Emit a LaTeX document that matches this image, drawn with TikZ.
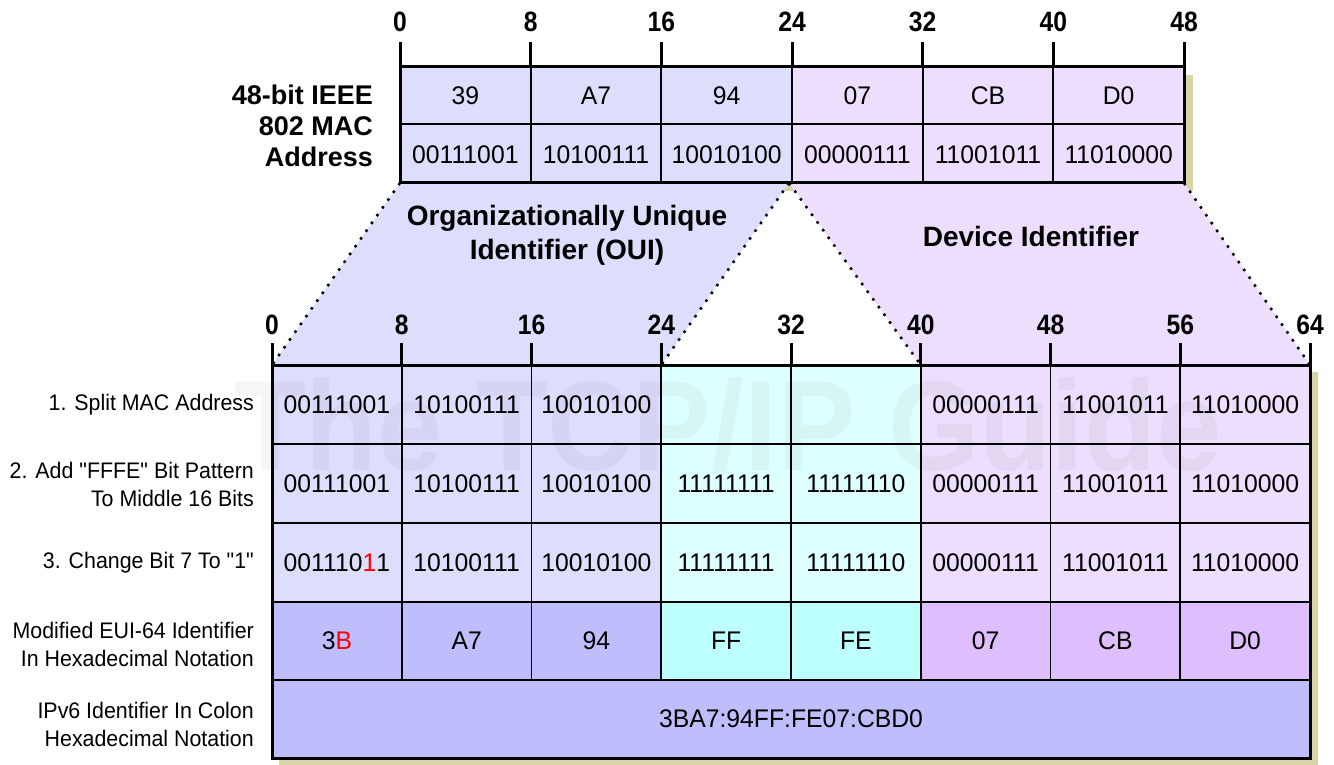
\documentclass[tikz,border=0pt]{standalone}
\usepackage{fontspec}
\setmainfont{Liberation Sans}[Ligatures=TeXOff]
\newfontfamily\condfont{Liberation Sans}[Ligatures=TeXOff,FakeStretch=0.97]
\newfontfamily\lblfont{Liberation Sans}[Ligatures=TeXOff,FakeStretch=0.95]
\newfontfamily\tickfont{Liberation Sans Bold}[Ligatures=TeXOff,FakeStretch=0.88]
\definecolor{oui}{HTML}{DDDDFC}
\definecolor{dev}{HTML}{ECDEFC}
\definecolor{mid}{HTML}{DEFFFF}
\definecolor{ouiH}{HTML}{BEBEFC}
\definecolor{midH}{HTML}{BEFFFF}
\definecolor{devH}{HTML}{DEBEFC}
\definecolor{shad}{HTML}{D8D4A8}
\begin{document}
\begin{tikzpicture}[x=1pt,y=-1pt,
  cell/.style={inner sep=0pt,font=\condfont\fontsize{25.5}{28}\selectfont},
  ticklbl/.style={inner sep=0pt,font=\tickfont\fontsize{28}{30}\selectfont},
  biglbl/.style={inner sep=0pt,align=center,font=\fontsize{28}{34}\selectfont\bfseries},
  maclblstyle/.style={inner sep=0pt,anchor=east,align=right,font=\fontsize{27}{31}\selectfont\bfseries},
  rowlbl/.style={inner sep=0pt,anchor=east,align=right,font=\lblfont\fontsize{22.5}{28}\selectfont},
  dotline/.style={line width=2.5pt,dash pattern=on 2.5pt off 7pt},
  thick3/.style={line width=3pt},
  thin2/.style={line width=1.8pt}]
\useasboundingbox (0,0) rectangle (1334,765);
\fill[white] (0,0) rectangle (1334,765);
% corner coordinates
\coordinate (TL) at (400,183);
\coordinate (TM) at (789,183);
\coordinate (TR) at (1184,183);
\coordinate (BL) at (272,365);
\coordinate (B24) at (661.25,365);
\coordinate (B40) at (920.75,365);
\coordinate (BR) at (1310,365);
% shadows
\fill[shad] (408,75) rectangle (1193,191);
\fill[shad] (279,372) rectangle (1318,765);
% trapezoids
\fill[oui] (TL) -- (TM) -- (B24) -- (BL) -- cycle;
\fill[dev] (TM) -- (TR) -- (BR) -- (B40) -- cycle;
% top table fills
\foreach \i/\col in {0/oui,1/oui,2/oui,3/dev,4/dev,5/dev}
  \fill[\col] ({400+130.667*\i},67) rectangle ({400+130.667*(\i+1)},183);
% lower table fills
\foreach \c/\lc/\hc in {0/oui/ouiH,1/oui/ouiH,2/oui/ouiH,3/mid/midH,4/mid/midH,5/dev/devH,6/dev/devH,7/dev/devH}{
  \fill[\lc] ({272+129.75*\c},365) rectangle ({272+129.75*(\c+1)},602);
  \fill[\hc] ({272+129.75*\c},602) rectangle ({272+129.75*(\c+1)},680);
}
\fill[ouiH] (272,680) rectangle (1310,758);
% watermark
\node[inner sep=0pt,text=black,opacity=0.035,font=\fontsize{128}{128}\selectfont\bfseries] (wm) at (728,425) {\scalebox{0.92}[1]{The TCP/IP Guide}};
% top table grid
\foreach \i in {1,...,5}
  \draw[thin2] ({400+130.667*\i},67) -- ({400+130.667*\i},183);
\draw[thin2] (400,124) -- (1184,124);
\draw[thick3] (400,67) rectangle (1184,183);
% top ticks and labels
\foreach \i/\l in {0/0,1/8,2/16,3/24,4/32,5/40,6/48}{
  \draw[thick3] ({400+130.667*\i},42) -- ({400+130.667*\i},67);
  \node[ticklbl] (tt\i) at ({400+130.667*\i},22) {\l};
}
% top table text
\foreach \i/\h/\b in {0/39/00111001,1/A7/10100111,2/94/10010100,3/07/00000111,4/CB/11001011,5/D0/11010000}{
  \node[cell] (th\i) at ({400+130.667*(\i+0.5)},96) {\h};
  \node[cell] (tb\i) at ({400+130.667*(\i+0.5)},155) {\b};
}
\node[maclblstyle] (maclbl) at (373,126) {48-bit IEEE\\802 MAC\\Address};
% lower table grid
\foreach \y in {444,523,602,680}
  \draw[thin2] (272,\y) -- (1310,\y);
\foreach \c in {1,...,7}
  \draw[thin2] ({272+129.75*\c},365) -- ({272+129.75*\c},680);
\draw[thick3] (272,365) rectangle (1310,758);
% lower ticks and labels
\foreach \i/\l in {0/0,1/8,2/16,3/24,4/32,5/40,6/48,7/56,8/64}{
  \draw[thick3] ({272+129.75*\i},343) -- ({272+129.75*\i},365);
  \node[ticklbl] (lt\i) at ({272+129.75*\i},325) {\l};
}
% dotted edges
\draw[dotline] (TL) -- (BL);
\draw[dotline] (TM) -- (B24);
\draw[dotline] (TM) -- (B40);
\draw[dotline] (TR) -- (BR);
% section labels
\node[biglbl] (ouilbl) at (567,235) {Organizationally Unique\\Identifier (OUI)};
\node[biglbl] (devlbl) at (1031,236) {Device Identifier};
% lower table text
\foreach \c/\t in {0/00111001,1/10100111,2/10010100,5/00000111,6/11001011,7/11010000}
  \node[cell] (ra\c) at ({272+129.75*(\c+0.5)},405) {\t};
\foreach \c/\t in {0/00111001,1/10100111,2/10010100,3/11111111,4/11111110,5/00000111,6/11001011,7/11010000}
  \node[cell] (rb\c) at ({272+129.75*(\c+0.5)},484) {\t};
\foreach \c/\t in {0/{001110\textcolor{red}{1}1},1/10100111,2/10010100,3/11111111,4/11111110,5/00000111,6/11001011,7/11010000}
  \node[cell] (rc\c) at ({272+129.75*(\c+0.5)},563) {\t};
\foreach \c/\t in {0/{3\textcolor{red}{B}},1/A7,2/94,3/FF,4/FE,5/07,6/CB,7/D0}
  \node[cell] (rd\c) at ({272+129.75*(\c+0.5)},641) {\t};
\node[cell] (re) at (791,719) {3BA7:94FF:FE07:CBD0};
% row labels
\node[rowlbl] (l1) at (254,405) {1. Split MAC Address};
\node[rowlbl] (l2) at (254,484) {2. Add "FFFE" Bit Pattern\\To Middle 16 Bits};
\node[rowlbl] (l3) at (254,563) {3. Change Bit 7 To "1"};
\node[rowlbl] (l4) at (254,644) {Modified EUI-64 Identifier\\In Hexadecimal Notation};
\node[rowlbl] (l5) at (254,724) {IPv6 Identifier In Colon\\Hexadecimal Notation};
\end{tikzpicture}
\end{document}
